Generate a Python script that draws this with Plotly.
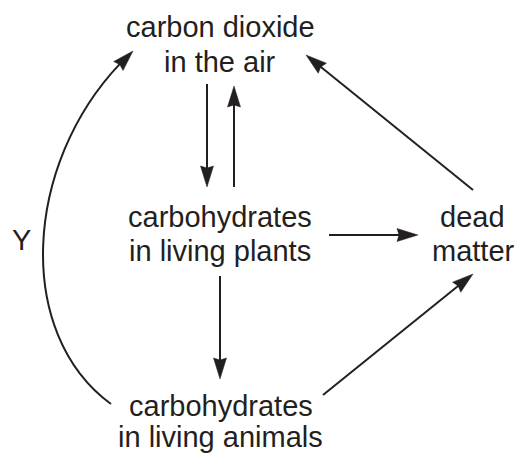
import numpy as np
import plotly.graph_objects as go

# ---- diagram content (pixel coordinates of a 519x454 canvas) ----
node_lines = [
    "carbon dioxide", "in the air",
    "carbohydrates", "in living plants",
    "dead", "matter",
    "carbohydrates", "in living animals",
]
node_x = [220, 220, 220, 220, 472, 473, 221, 220]
node_baseline = [37, 72, 227, 261, 227, 261, 416, 447]

label_text = ["Y"]
label_x = [21]
label_baseline = [250]

# straight arrows: start -> tip
arrow_x0 = [207, 234, 329, 220, 323, 473]
arrow_y0 = [84, 187, 235, 276, 395, 190]
arrow_x1 = [207, 234, 418, 220, 473, 306]
arrow_y1 = [187, 86, 235, 379, 274, 55]

# curved arrow (cubic Bezier): start, control1, control2, tip
curve_pts = [(111, 404), (10, 330), (25, 150), (133, 51)]

INK = "#231f20"
FONT = 29
HEAD_L, HEAD_W, NOTCH = 21, 6.5, 2.0

shapes = []
annotations = []


def head_path(tip, u):
    n = np.array([-u[1], u[0]])
    base = tip - u * HEAD_L
    p1 = base + n * HEAD_W
    p2 = base - n * HEAD_W
    pn = base + u * NOTCH
    pts = [tip, p1, pn, p2]
    return "M " + " L ".join(f"{p[0]:.2f},{p[1]:.2f}" for p in pts) + " Z"


for x0, y0, x1, y1 in zip(arrow_x0, arrow_y0, arrow_x1, arrow_y1):
    s = np.array([x0, y0], float)
    t = np.array([x1, y1], float)
    u = (t - s) / np.linalg.norm(t - s)
    end = t - u * (HEAD_L - NOTCH - 1)
    shapes.append(dict(type="line", xref="x", yref="y", x0=s[0], y0=s[1],
                       x1=end[0], y1=end[1], line=dict(color=INK, width=2)))
    shapes.append(dict(type="path", xref="x", yref="y", path=head_path(t, u),
                       fillcolor=INK, line=dict(color=INK, width=0.5)))

# curved arrow
P = [np.array(p, float) for p in curve_pts]


def bez(tt):
    return ((1 - tt) ** 3) * P[0] + 3 * ((1 - tt) ** 2) * tt * P[1] + \
        3 * (1 - tt) * tt ** 2 * P[2] + tt ** 3 * P[3]


tip = P[3]
target = HEAD_L - NOTCH - 1
lo, hi = 0.5, 1.0
for _ in range(60):
    mid = (lo + hi) / 2
    if np.linalg.norm(bez(mid) - tip) > target:
        lo = mid
    else:
        hi = mid
t0 = lo
# de Casteljau split at t0 -> sub-curve [0, t0]
a = P[0] + (P[1] - P[0]) * t0
b = P[1] + (P[2] - P[1]) * t0
c = P[2] + (P[3] - P[2]) * t0
d = a + (b - a) * t0
e = b + (c - b) * t0
f = d + (e - d) * t0
shapes.append(dict(type="path", xref="x", yref="y",
                   path=f"M {P[0][0]},{P[0][1]} C {a[0]:.2f},{a[1]:.2f} {d[0]:.2f},{d[1]:.2f} {f[0]:.2f},{f[1]:.2f}",
                   line=dict(color=INK, width=2)))
u = (tip - bez(0.93))
u = u / np.linalg.norm(u)
shapes.append(dict(type="path", xref="x", yref="y", path=head_path(tip, u),
                   fillcolor=INK, line=dict(color=INK, width=0.5)))

# text
OFF = 0.3465 * FONT
for txt, x, bl in zip(node_lines + label_text, node_x + label_x,
                      node_baseline + label_baseline):
    annotations.append(dict(text=txt, x=x, y=bl - OFF, xref="x", yref="y",
                            xanchor="center", yanchor="middle", showarrow=False,
                            font=dict(family="Liberation Sans, Arial", size=FONT,
                                      color=INK)))

fig = go.Figure()
fig.update_layout(
    width=519, height=454,
    margin=dict(l=0, r=0, t=0, b=0),
    paper_bgcolor="white", plot_bgcolor="white",
    xaxis=dict(range=[0, 519], visible=False, fixedrange=True),
    yaxis=dict(range=[454, 0], visible=False, fixedrange=True),
    shapes=shapes, annotations=annotations, showlegend=False,
)
fig.write_html(
    "out.html",
    config={"displayModeBar": False},
    post_script="document.body.style.margin='0';document.body.style.overflow='hidden';",
)
